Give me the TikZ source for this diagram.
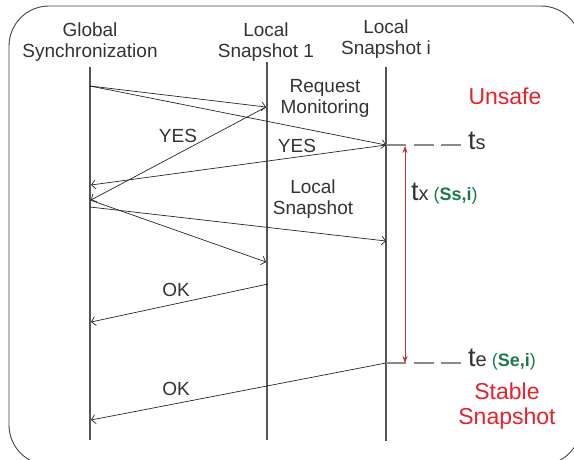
\documentclass[tikz,border=0pt]{standalone}
\usepackage{fontspec}
\setmainfont{Liberation Sans}
\usetikzlibrary{arrows.meta}
\definecolor{ink}{HTML}{333333}
\definecolor{lifegray}{HTML}{555555}
\definecolor{framegray}{HTML}{444444}
\definecolor{alertred}{HTML}{E8202A}
\definecolor{spanred}{HTML}{C0303A}
\definecolor{stategreen}{HTML}{1A7A4A}
\definecolor{dashgray}{HTML}{8A8A8A}

\tikzset{
  lbl/.style={font=\fontsize{19}{21}\selectfont, text=ink, align=center, inner sep=0pt},
  bigred/.style={font=\fontsize{23}{25}\selectfont, text=alertred, align=center, inner sep=0pt},
  life/.style={draw=lifegray, line width=1.1pt},
  msg/.style={draw=black!85, line width=0.7pt, -{Straight Barb[length=4pt,width=9pt]}},
  tick/.style={draw=dashgray, line width=1.1pt, dash pattern=on 20pt off 7.5pt},
  span/.style={draw=spanred, line width=0.8pt, {Stealth[length=7pt,width=5pt]}-{Stealth[length=7pt,width=5pt]}},
  tlabel/.style={anchor=base west, inner sep=0pt, text=ink}
}
\newcommand{\tbig}{\fontsize{27}{27}\selectfont}
\newcommand{\tsub}{\fontsize{20}{20}\selectfont}
% green state tag: plain parentheses, bold contents
\newcommand{\statetag}[1]{{\fontsize{18}{18}\selectfont\color{stategreen}({\bfseries #1})}}

\begin{document}
\begin{tikzpicture}[x=1pt,y=-1pt]
\useasboundingbox (0,0) rectangle (574,459);
\begin{scope}
  \clip (0,0) rectangle (574,459);
  \draw[framegray, line width=0.9pt, rounded corners=40pt] (9,6) rectangle (581,465);
\end{scope}

% lifeline headers
\node[lbl] (hG) at (90,42) {Global\\Synchronization};
\node[lbl] (hA) at (266,42) {Local\\Snapshot 1};
\node[lbl] (hB) at (386,39) {Local\\Snapshot i};

% lifelines
\coordinate (G0) at (90,67);  \coordinate (G1) at (90,440);
\coordinate (A0) at (267,62); \coordinate (A1) at (267,440);
\coordinate (B0) at (386,67); \coordinate (B1) at (386,441);
\draw[life] (G0) -- (G1);
\draw[life] (A0) -- (A1);
\draw[life] (B0) -- (B1);

% message end points on the lifelines
\coordinate (gReq)  at (90,86);
\coordinate (aReq)  at (266,107);
\coordinate (bS)    at (386,145);
\coordinate (gYesA) at (91,200);
\coordinate (gYesB) at (91,185);
\coordinate (gSnapA) at (90,200);
\coordinate (gSnapB) at (90,207);
\coordinate (aSnap) at (266,262);
\coordinate (bSnap) at (386,241);
\coordinate (aOk)   at (268,284);
\coordinate (gOkA)  at (91,322);
\coordinate (bE)    at (386,363);
\coordinate (gOkB)  at (91,420);

% messages
\draw[msg] (gReq) -- (aReq);
\draw[msg] (gReq) -- (bS);
\draw[msg] (aReq) -- (gYesA);
\draw[msg] (bS) -- (gYesB);
\draw[msg] (gSnapA) -- (aSnap);
\draw[msg] (gSnapB) -- (bSnap);
\draw[msg] (aOk) -- (gOkA);
\draw[msg] (bE) -- (gOkB);

% message labels
\node[lbl] (lReq)  at (325,98)  {Request\\Monitoring};
\node[lbl] (lYesA) at (178,136) {YES};
\node[lbl] (lYesB) at (297,146) {YES};
\node[lbl] (lSnap) at (313,199) {Local\\Snapshot};
\node[lbl] (lOkA)  at (176,290) {OK};
\node[lbl] (lOkB)  at (176,389) {OK};

% time marks on Snapshot i
\coordinate (tsEnd) at (466,145);
\coordinate (teEnd) at (466,363);
\draw[tick] (bS) -- (tsEnd);
\draw[tick] (bE) -- (teEnd);
\node[tlabel] (ts) at (468,149) {{\tbig t}{\tsub s}};
\node[tlabel] (te) at (468,366) {{\tbig t}{\tsub e}\hspace{5pt}\statetag{Se,i}};

% duration between the two marks
\coordinate (spanTop) at (405,146);
\coordinate (spanBot) at (405,363);
\draw[span] (spanTop) -- (spanBot);
\node[tlabel] (tx) at (411,200) {{\tbig t}{\tsub x}\hspace{5pt}\statetag{Ss,i}};

% state labels
\node[bigred] (unsafe) at (505,96) {Unsafe};
\node[bigred] (stable) at (507,406) {Stable\\Snapshot};
\end{tikzpicture}
\end{document}
